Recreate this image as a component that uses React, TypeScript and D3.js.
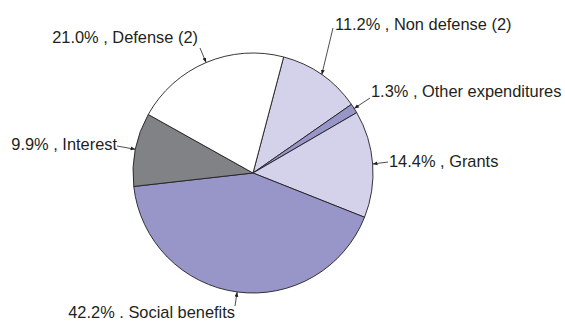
import React from "react";
import * as d3 from "d3";

const categories = ["Non defense (2)", "Other expenditures", "Grants", "Social benefits", "Interest", "Defense (2)"];
const values = [11.2, 1.3, 14.4, 42.2, 9.9, 21.0];
const separators = [" , ", " , ", " , ", " . ", " , ", " , "];
const colors = ["#d4d2ea", "#9895c8", "#d4d2ea", "#9895c8", "#808285", "#ffffff"];

// label layout: outer end of the leader line, text anchor point
const labelLayout = [
  { lx: 333, ly: 28, tx: 335, ty: 30, anchor: "start" },
  { lx: 370, ly: 98, tx: 371, ty: 97, anchor: "start" },
  { lx: 388, ly: 162, tx: 389, ty: 167, anchor: "start" },
  { lx: 235, ly: 306, tx: 235, ty: 318, anchor: "end" },
  { lx: 117, ly: 146, tx: 117, ty: 150, anchor: "end" },
  { lx: 200, ly: 48, tx: 198, ty: 43, anchor: "end" },
];

const W = 565;
const H = 323;
const cx = 253;
const cy = 173;
const R = 120;
const startDeg = 14.8;

export default function App() {
  const pie = d3
    .pie<number>()
    .sort(null)
    .value((d) => d)
    .startAngle((startDeg * Math.PI) / 180)
    .endAngle((startDeg * Math.PI) / 180 + 2 * Math.PI);
  const arcs = pie(values);
  const arcGen = d3.arc<d3.PieArcDatum<number>>().innerRadius(0).outerRadius(R);

  return (
    <svg width={W} height={H} style={{ position: "absolute", left: 0, top: 0 }}>
      <defs>
        <marker id="arr" viewBox="0 0 10 10" refX="10" refY="5" markerWidth="6" markerHeight="6" orient="auto">
          <path d="M0,1 L10,5 L0,9 z" fill="#231f20" />
        </marker>
      </defs>
      <rect width={W} height={H} fill="#ffffff" />
      <g transform={`translate(${cx},${cy})`}>
        {arcs.map((a, i) => (
          <path key={i} d={arcGen(a) || ""} fill={colors[i]} stroke="#231f20" strokeWidth={0.9} strokeLinejoin="round" />
        ))}
      </g>
      {arcs.map((a, i) => {
        const mid = (a.startAngle + a.endAngle) / 2;
        const px = cx + R * Math.sin(mid);
        const py = cy - R * Math.cos(mid);
        const L = labelLayout[i];
        return (
          <g key={"l" + i}>
            <line x1={L.lx} y1={L.ly} x2={px} y2={py} stroke="#231f20" strokeWidth={0.8} markerEnd="url(#arr)" />
            <text
              x={L.tx}
              y={L.ty}
              textAnchor={L.anchor as any}
              fontFamily="'Liberation Sans', Arial, sans-serif"
              fontSize={16.4}
              fill="#231f20"
            >
              {`${values[i].toFixed(1)}%${separators[i]}${categories[i]}`}
            </text>
          </g>
        );
      })}
    </svg>
  );
}
